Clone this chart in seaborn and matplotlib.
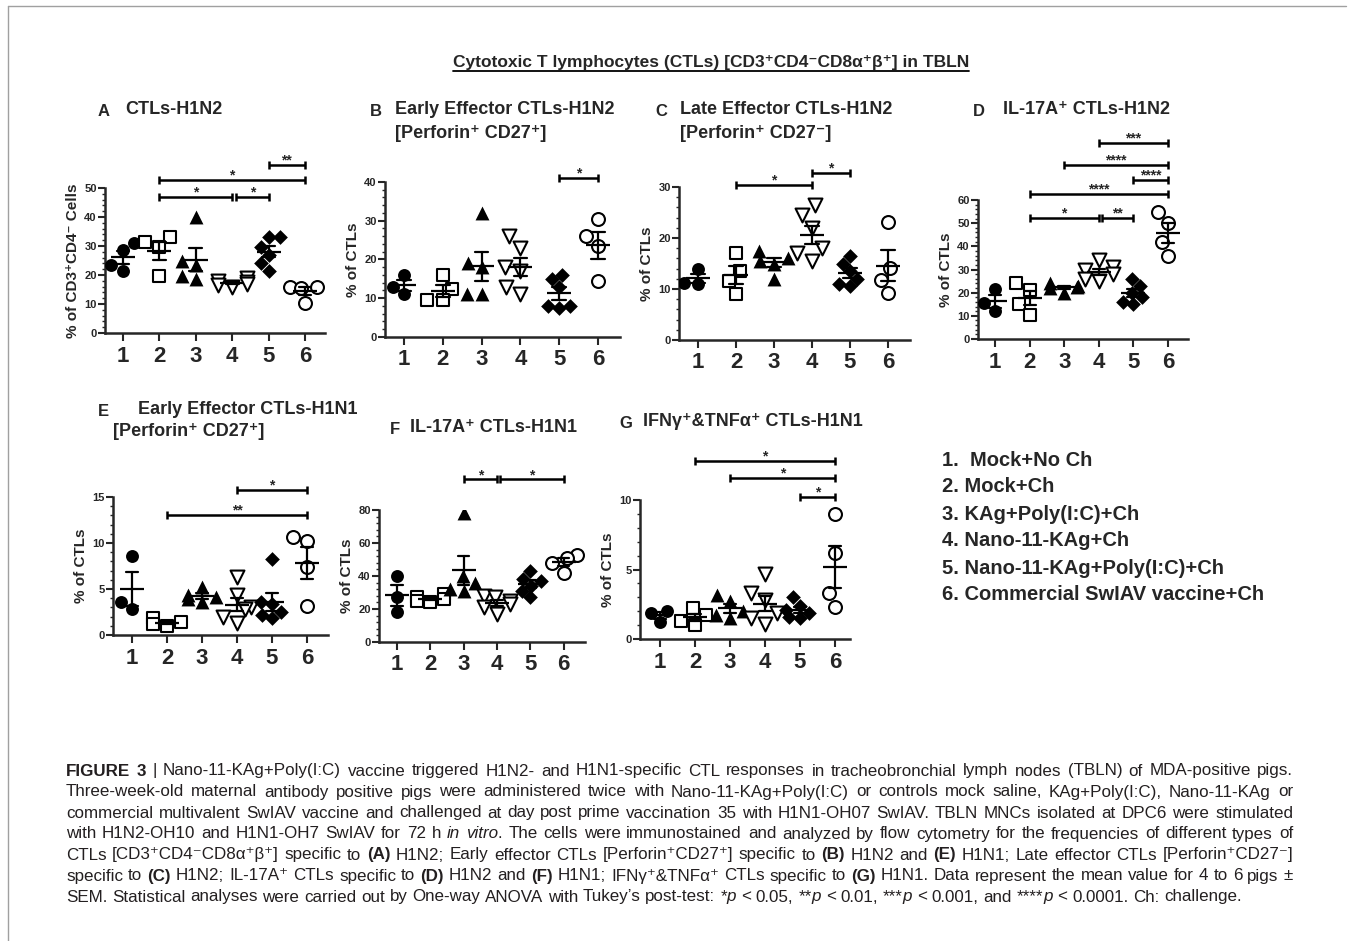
import re
import numpy as np
import pandas as pd
import seaborn as sns
import matplotlib
matplotlib.use("Agg")
import matplotlib.pyplot as plt
from matplotlib import font_manager
from matplotlib.ticker import MultipleLocator
from matplotlib.lines import Line2D

# group order and the marker of each group
groups = ["1", "2", "3", "4", "5", "6"]
markers = ["o", "s", "^", "v", "D", "o"]
filled = [True, False, True, False, True, False]
msizes = [9.3, 9.0, 10.0, 10.0, 7.5, 9.3]

# values (one list per group)
vals_a = [[31, 28.5, 23.5, 21.5], [33, 31.5, 29.5, 19.5], [40, 25, 23.5, 18.5, 19.5],
          [19, 18, 17.5, 16.5, 16, 17], [33, 33, 29.5, 27, 24, 21.5], [16, 16, 15.5, 10.5]]
vals_b = [[16, 13, 11], [16, 12.5, 9.5, 9.5], [32, 19, 18, 11, 11],
          [26, 23, 18, 17, 13, 11], [16, 15, 13, 8, 8, 7.5], [30.5, 26, 23.5, 14.5]]
vals_c = [[14, 11, 11.2], [17, 13.5, 11.5, 9], [17.5, 16, 15.5, 15, 12],
          [26.5, 24.5, 22, 18, 17, 15.5], [16.5, 15, 13.5, 12, 11, 10.5], [23.2, 14.2, 11.8, 9.2]]
vals_d = [[21.5, 15.5, 12], [24, 21, 15, 10.5], [24, 23, 22.5, 22, 20],
          [34, 31, 30, 28, 26, 25], [26, 23, 20, 18, 16, 15], [55, 50, 42, 36]]
vals_e = [[8.6, 3.6, 2.8], [1.8, 1.4, 1.2, 1.0], [5.2, 4.4, 4.1, 3.9, 3.6],
          [6.3, 4.4, 3.0, 2.8, 2.0, 1.3], [8.3, 3.6, 3.4, 2.5, 2.2, 1.8], [10.6, 10.2, 7.4, 3.1]]
vals_f = [[40, 27, 18], [29, 27, 26, 25, 24], [78, 40, 36, 32, 31],
          [28, 27, 25, 23, 21, 17], [43, 38, 37, 34, 31, 27], [53, 51, 48, 42]]
vals_g = [[2.0, 1.9, 1.2], [2.2, 1.7, 1.3, 1.0], [3.2, 2.7, 2.0, 1.7, 1.5],
          [4.7, 3.3, 2.8, 1.9, 1.5, 1.1], [3.0, 2.4, 2.1, 1.9, 1.6, 1.5], [9.0, 6.2, 3.3, 2.3]]

# significance brackets: (from group, to group, height, label)
br_a = [(5, 6, 57.9, "**"), (2, 6, 52.7, "*"), (2, 4, 46.9, "*"), (4, 5, 46.9, "*")]
br_b = [(5, 6, 41, "*")]
br_c = [(2, 4, 30.4, "*"), (4, 5, 32.7, "*")]
br_d = [(4, 6, 84.7, "***"), (3, 6, 75.1, "****"), (5, 6, 68.7, "****"),
        (2, 6, 62.6, "****"), (2, 4, 52.1, "*"), (4, 5, 52.1, "**")]
br_e = [(4, 6, 15.8, "*"), (2, 6, 13.0, "**")]
br_f = [(3, 4, 98.5, "*"), (4, 6, 98.5, "*")]
br_g = [(2, 6, 12.8, "*"), (3, 6, 11.6, "*"), (5, 6, 10.2, "*")]

legend_lines = ["1.  Mock+No Ch", "2. Mock+Ch", "3. KAg+Poly(I:C)+Ch", "4. Nano-11-KAg+Ch",
                "5. Nano-11-KAg+Poly(I:C)+Ch", "6. Commercial SwIAV vaccine+Ch"]

caption = [
    "<b>FIGURE</b> <b>3</b> | Nano-11-KAg+Poly(I:C) vaccine triggered H1N2- and H1N1-specific CTL responses in tracheobronchial lymph nodes (TBLN) of MDA-positive pigs.",
    "Three-week-old maternal antibody positive pigs were administered twice with Nano-11-KAg+Poly(I:C) or controls mock saline, KAg+Poly(I:C), Nano-11-KAg or",
    "commercial multivalent SwIAV vaccine and challenged at day post prime vaccination 35 with H1N1-OH07 SwIAV. TBLN MNCs isolated at DPC6 were stimulated",
    "with H1N2-OH10 and H1N1-OH7 SwIAV for 72 h <i>in</i> <i>vitro</i>. The cells were immunostained and analyzed by flow cytometry for the frequencies of different types of",
    "CTLs [CD3\u207aCD4\u207bCD8\u03b1\u207a\u03b2\u207a] specific to <b>(A)</b> H1N2; Early effector CTLs [Perforin\u207aCD27\u207a] specific to <b>(B)</b> H1N2 and <b>(E)</b> H1N1; Late effector CTLs [Perforin\u207aCD27\u207b]",
    "specific to <b>(C)</b> H1N2; IL-17A\u207a CTLs specific to <b>(D)</b> H1N2 and <b>(F)</b> H1N1; IFN\u03b3\u207a&TNF\u03b1\u207a CTLs specific to <b>(G)</b> H1N1. Data represent the mean value for 4 to 6 pigs \u00b1",
    "SEM. Statistical analyses were carried out by One-way ANOVA with Tukey\u2019s post-test: *<i>p</i> < 0.05, **<i>p</i> < 0.01, ***<i>p</i> < 0.001, and ****<i>p</i> < 0.0001. Ch: challenge.",
]

W, H = 1354, 941
sns.set_style("ticks")
plt.rcParams["font.family"] = ["Liberation Sans", "DejaVu Sans"]
plt.rcParams["font.weight"] = "bold"
plt.rcParams["axes.labelweight"] = "bold"

fig = plt.figure(figsize=(W / 100, H / 100), dpi=100)


def ftext(x, y, s, **kw):
    kw.setdefault("va", "center")
    return fig.text(x / W, 1 - y / H, s, **kw)


def panel(rect, vals, ymax, major, minor, ylabel, brackets):
    x0, x1, ytop, ybot, t1, sp = rect
    ax = fig.add_axes([x0 / W, 1 - ybot / H, (x1 - x0) / W, (ybot - ytop) / H])
    df = pd.DataFrame({
        "group": [g for g, v in zip(groups, vals) for _ in v],
        "value": [x for v in vals for x in v],
    })
    for g, m, f, ms in zip(groups, markers, filled, msizes):
        sns.swarmplot(data=df[df.group == g], x="group", y="value", order=groups, ax=ax,
                      marker=m, size=ms, color="black" if f else "white",
                      edgecolor="black", linewidth=0 if f else 1.5, warn_thresh=1)
    sns.pointplot(data=df, x="group", y="value", order=groups, ax=ax, errorbar="se",
                  linestyle="none", marker="_", markersize=17, markeredgewidth=1.6,
                  capsize=0.35, color="black", zorder=5,
                  err_kws={"linewidth": 1.6, "zorder": 5})
    ax.set_xlim((x0 - t1) / sp, (x1 - t1) / sp)
    ax.set_ylim(0, ymax)
    ax.yaxis.set_major_locator(MultipleLocator(major))
    ax.yaxis.set_minor_locator(MultipleLocator(minor))
    ax.set_xlabel("")
    ax.set_ylabel(ylabel, fontsize=11, labelpad=3)
    sns.despine(ax=ax)
    for s in ["left", "bottom"]:
        ax.spines[s].set_linewidth(1.8)
    ax.tick_params(axis="y", which="major", length=5, width=1.5, labelsize=8, pad=1)
    ax.tick_params(axis="y", which="minor", length=2.5, width=1)
    ax.tick_params(axis="x", length=6, width=1.5, labelsize=16, pad=3)

    ppu = (ybot - ytop) / ymax
    dy = 4 / ppu
    for i, j, yv, lab in brackets:
        a, b = i - 1, j - 1
        if any(k[1] == i and k[2] == yv for k in brackets):
            a += 0.1
        kw = dict(color="black", lw=1.8, clip_on=False, solid_capstyle="butt")
        ax.plot([a, b], [yv, yv], **kw)
        ax.plot([a, a], [yv - dy, yv + dy], **kw)
        ax.plot([b, b], [yv - dy, yv + dy], **kw)
        ax.text((a + b) / 2, yv + 0.5 / ppu, lab, ha="center", va="baseline",
                fontsize=10, clip_on=False)
    return ax


# axes boxes in pixels: y-axis x, x-axis end, y of top tick, y of zero, x of tick 1, tick spacing
panel((105, 325, 188, 333, 123, 36.4), vals_a, 50, 10, 2, "% of CD3\u207aCD4\u207b Cells", br_a)
panel((385, 620, 182, 337, 404, 38.8), vals_b, 40, 10, 2, "% of CTLs", br_b)
panel((679, 910, 187, 340, 698, 38.0), vals_c, 30, 10, 2, "% of CTLs", br_c)
panel((978, 1188, 200, 339, 995, 34.6), vals_d, 60, 10, 2, "% of CTLs", br_d)
panel((113, 328, 497, 635, 132, 35.0), vals_e, 15, 5, 1, "% of CTLs", br_e)
panel((379, 585, 510, 642, 397, 33.3), vals_f, 80, 20, 4, "% of CTLs", br_f)
panel((640, 850, 500, 639, 660, 35.0), vals_g, 10, 5, 1, "% of CTLs", br_g)

# panel titles
ts = 13
for letter, lx, tx, y, t in [("A", 98, 125, 110, "CTLs-H1N2"),
                             ("B", 370, 395, 110, "Early Effector CTLs-H1N2"),
                             ("C", 655, 680, 110, "Late Effector CTLs-H1N2"),
                             ("D", 973, 1003, 110, "IL-17A\u207a CTLs-H1N2"),
                             ("E", 98, 138, 410, "Early Effector CTLs-H1N1"),
                             ("F", 390, 410, 428, "IL-17A\u207a CTLs-H1N1"),
                             ("G", 619, 643, 422, "IFN\u03b3\u207a&TNF\u03b1\u207a CTLs-H1N1")]:
    ftext(lx, y + 1, letter, fontsize=12)
    ftext(tx, y, t, fontsize=ts)
ftext(395, 133, "[Perforin\u207a CD27\u207a]", fontsize=ts)
ftext(680, 133, "[Perforin\u207a CD27\u207b]", fontsize=ts)
ftext(113, 432, "[Perforin\u207a CD27\u207a]", fontsize=ts)

top = ftext(711, 62, "Cytotoxic T lymphocytes (CTLs) [CD3\u207aCD4\u207bCD8\u03b1\u207a\u03b2\u207a] in TBLN",
            fontsize=12.5, ha="center")

# legend text
for k, s in enumerate(legend_lines):
    ftext(942, 460 + 27 * k, s, fontsize=14.5)

renderer = fig.canvas.get_renderer()

# underline of the main title
bb = top.get_window_extent(renderer)
fig.add_artist(Line2D([bb.x0 / W, bb.x1 / W], [(bb.y0 - 1) / H, (bb.y0 - 1) / H],
                      transform=fig.transFigure, color="black", lw=1.3))


# caption, justified word by word
def has_font(name):
    try:
        font_manager.findfont(font_manager.FontProperties(family=name), fallback_to_default=False)
        return True
    except Exception:
        return False


cap_family = ["Liberation Sans Narrow", "DejaVu Sans"] if has_font("Liberation Sans Narrow") \
    else ["Liberation Sans", "DejaVu Sans"]


def parse(line):
    words = []
    for w in line.split(" "):
        runs = []
        for part in re.split(r"(<b>.*?</b>|<i>.*?</i>)", w):
            if not part:
                continue
            if part.startswith("<b>"):
                runs.append((part[3:-4], "bold", "normal"))
            elif part.startswith("<i>"):
                runs.append((part[3:-4], "normal", "italic"))
            else:
                runs.append((part, "normal", "normal"))
        words.append(runs)
    return words


def word_width(runs, size):
    tot = 0
    for s, wgt, sty in runs:
        t = fig.text(0, 0, s, fontsize=size, fontweight=wgt, fontstyle=sty, family=cap_family)
        tot += t.get_window_extent(renderer).width
        t.remove()
    return tot


x_left, x_right = 66, 1293
ref = 10
naturals = []
for line in caption[:-1]:
    ws = parse(line)
    naturals.append(sum(word_width(r, ref) for r in ws) + 0.28 * ref * 100 / 72 * (len(ws) - 1))
cap_size = ref * (x_right - x_left) / max(naturals) * 0.99

for n, line in enumerate(caption):
    ws = parse(line)
    widths = [word_width(r, cap_size) for r in ws]
    if n < len(caption) - 1:
        gap = (x_right - x_left - sum(widths)) / (len(ws) - 1)
    else:
        gap = 0.28 * cap_size * 100 / 72
    x = x_left
    y = 771 + 21 * n
    for runs, wd in zip(ws, widths):
        xx = x
        for s, wgt, sty in runs:
            t = ftext(xx, y, s, fontsize=cap_size, fontweight=wgt, fontstyle=sty,
                      family=cap_family, color="#231f20")
            xx += t.get_window_extent(renderer).width
        x += wd + gap

# thin grey frame
fig.add_artist(Line2D([8 / W, 8 / W], [0, 1 - 6 / H], transform=fig.transFigure, color="#a0a0a0", lw=1))
fig.add_artist(Line2D([8 / W, 1346 / W], [1 - 6 / H, 1 - 6 / H], transform=fig.transFigure, color="#a0a0a0", lw=1))

fig.savefig("out.png", dpi=100)
